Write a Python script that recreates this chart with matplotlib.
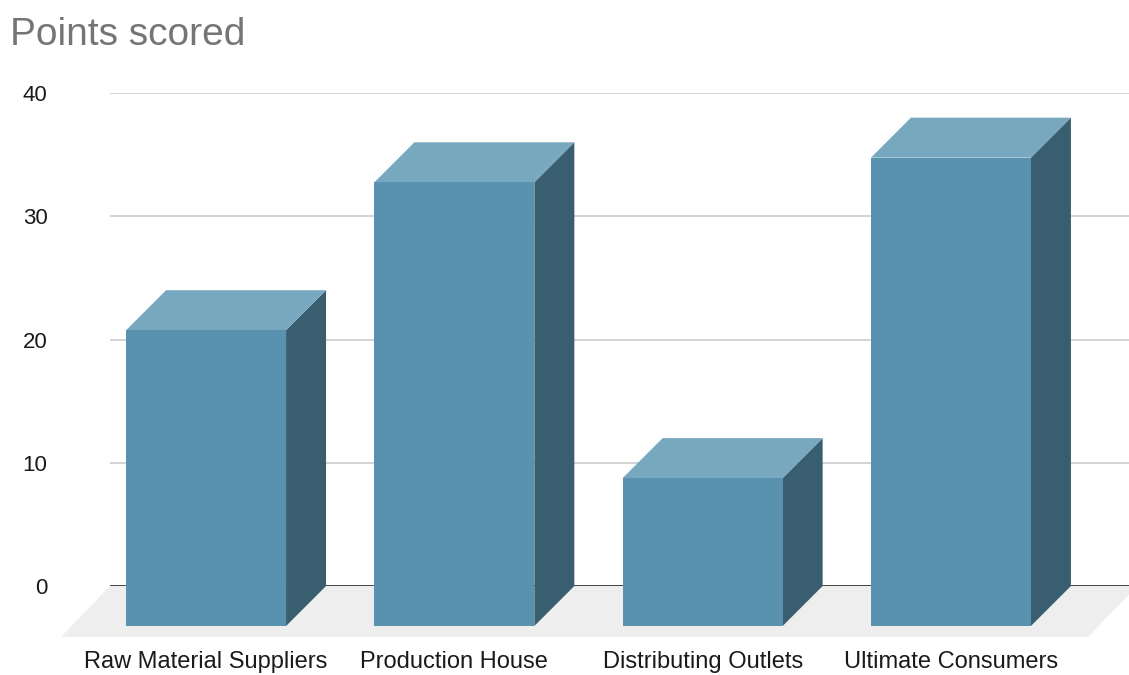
import matplotlib
matplotlib.use("Agg")
import matplotlib.pyplot as plt
from matplotlib.patches import Polygon

# Data
categories = ["Raw Material Suppliers", "Production House", "Distributing Outlets", "Ultimate Consumers"]
points = [24, 36, 12, 38]
y_ticks = [0, 10, 20, 30, 40]

# Colours
FRONT = "#5992af"
TOP = "#78a8c0"
SIDE = "#385e70"
FLOOR = "#eeeeee"

plt.rcParams["font.family"] = ["Liberation Sans", "DejaVu Sans"]

W, H = 1129, 675
fig = plt.figure(figsize=(W / 100, H / 100), dpi=100)
fig.patch.set_facecolor("white")

# axes = back wall of the 3d box
ax = fig.add_axes([110 / W, (H - 586) / H, 1019 / W, (586 - 93) / H])
ax.set_xlim(-0.548, 3.556)
ax.set_ylim(0, 40)

px_x = 1 / 248.33   # category units per pixel
px_y = 40 / 493.0   # value units per pixel
dx, dy = 40 * px_x, 40 * px_y     # bar depth
fdx, fdy = 49 * px_x, 51 * px_y   # floor depth
bw = 160 * px_x

# floor
x0, x1 = ax.get_xlim()
xr = x1 + 8 * px_x
ax.add_patch(Polygon([(x0, 0), (xr, 0), (xr - fdx, -fdy), (x0 - fdx, -fdy)],
                     closed=True, facecolor=FLOOR, edgecolor="none", clip_on=False, zorder=1))

# gridlines and baseline
for t in y_ticks[1:]:
    ax.axhline(t, color="#cccccc", lw=1.2, zorder=0.5)
ax.axhline(0, color="#333333", lw=1.3, zorder=2)

# bars
for i, v in enumerate(points):
    l, r = i - bw / 2, i + bw / 2
    front = [(l - dx, -dy), (r - dx, -dy), (r - dx, v - dy), (l - dx, v - dy)]
    top = [(l - dx, v - dy), (r - dx, v - dy), (r, v), (l, v)]
    side = [(r - dx, -dy), (r, 0), (r, v), (r - dx, v - dy)]
    ax.add_patch(Polygon(side, closed=True, facecolor=SIDE, edgecolor="none", clip_on=False, zorder=3))
    ax.add_patch(Polygon(top, closed=True, facecolor=TOP, edgecolor="none", clip_on=False, zorder=3))
    ax.add_patch(Polygon(front, closed=True, facecolor=FRONT, edgecolor="none", clip_on=False, zorder=4))

ax.set_xticks([i - dx for i in range(len(categories))])
ax.set_xticklabels(categories, fontsize=17, color="#1a1a1a")
ax.set_yticks(y_ticks)
ax.set_yticklabels([str(t) for t in y_ticks], fontsize=16, color="#1a1a1a")
ax.tick_params(axis="x", length=0, pad=47)
ax.tick_params(axis="y", length=0, pad=45)
for s in ax.spines.values():
    s.set_visible(False)
ax.set_facecolor("none")

fig.text(10 / W, 1 - 45 / H, "Points scored", fontsize=28, color="#757575", va="baseline", ha="left")

fig.savefig("out.png", dpi=100, facecolor="white")
